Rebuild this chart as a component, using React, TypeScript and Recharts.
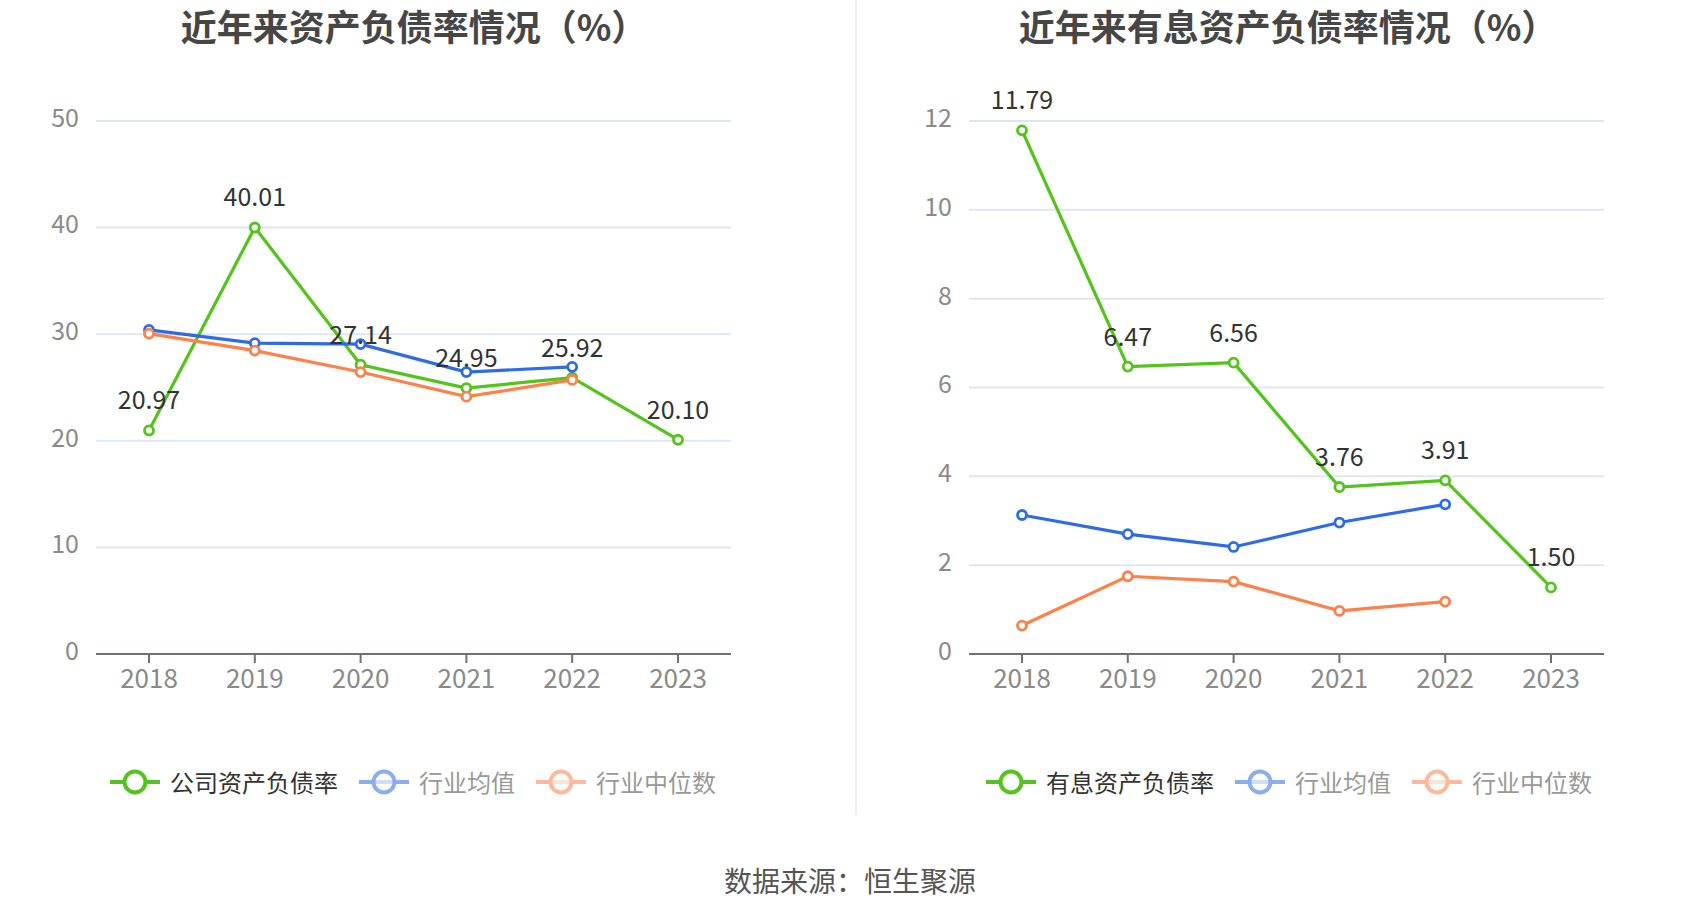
import React from 'react';
import { LineChart, Line, XAxis, YAxis, CartesianGrid, LabelList } from 'recharts';

const years = ['2018', '2019', '2020', '2021', '2022', '2023'];

const companyDebtRatio = [20.97, 40.01, 27.14, 24.95, 25.92, 20.1];
const industryAvgDebtRatio = [30.4, 29.17, 29.07, 26.45, 26.94, null];
const industryMedianDebtRatio = [30.06, 28.46, 26.45, 24.14, 25.71, null];

const interestDebtRatio = [11.79, 6.47, 6.56, 3.76, 3.91, 1.5];
const industryAvgInterestRatio = [3.13, 2.7, 2.41, 2.96, 3.37, null];
const industryMedianInterestRatio = [0.64, 1.75, 1.63, 0.97, 1.18, null];

const leftTicks = [0, 10, 20, 30, 40, 50];
const rightTicks = [0, 2, 4, 6, 8, 10, 12];

const leftTitle = '近年来资产负债率情况（%）';
const rightTitle = '近年来有息资产负债率情况（%）';
const leftLegend = ['公司资产负债率', '行业均值', '行业中位数'];
const rightLegend = ['有息资产负债率', '行业均值', '行业中位数'];
const sourceText = '数据来源：恒生聚源';

const GREEN = '#52C41A';
const BLUE = '#2E6BE6';
const ORANGE = '#FF8049';
const GRID = '#E0E6F1';
const AXIS = '#6E7079';
const TICK_TEXT = '#8a8a8a';
const FONT = "'Noto Sans CJK SC', 'Noto Sans', sans-serif";

const build = (main: (number | null)[], avg: (number | null)[], med: (number | null)[]) =>
  years.map((y, i) => ({ year: y, main: main[i], avg: avg[i], med: med[i] }));

const leftData = build(companyDebtRatio, industryAvgDebtRatio, industryMedianDebtRatio);
const rightData = build(interestDebtRatio, industryAvgInterestRatio, industryMedianInterestRatio);

function Panel({ left, data, ticks, yWidth, rightMargin }: any) {
  const max = ticks[ticks.length - 1];
  const dot = (c: string) => ({ r: 4.5, stroke: c, strokeWidth: 2.8, fill: '#fff' });
  return (
    <div style={{ position: 'absolute', left, top: 0 }}>
      <LineChart width={850} height={720} data={data} margin={{ top: 121, right: rightMargin, bottom: 16, left: 0 }}>
        <CartesianGrid horizontal vertical={false} stroke={GRID} strokeWidth={2} />
        <XAxis
          dataKey="year"
          padding={{ left: 53, right: 53 }}
          axisLine={{ stroke: AXIS, strokeWidth: 2 }}
          tickLine={{ stroke: AXIS, strokeWidth: 2 }}
          tickSize={9}
          tickMargin={7}
          height={50}
          interval={0}
          tick={{ fill: TICK_TEXT, fontSize: 26 }}
        />
        <YAxis
          type="number"
          domain={[0, max]}
          ticks={ticks}
          interval={0}
          width={yWidth}
          axisLine={false}
          tickLine={false}
          tickSize={0}
          tickMargin={17}
          tick={{ fill: TICK_TEXT, fontSize: 25, dy: -3 }}
        />
        <Line dataKey="main" stroke={GREEN} strokeWidth={3.2} dot={dot(GREEN)} activeDot={false} isAnimationActive={false}>
          <LabelList
            dataKey="main"
            position="top"
            offset={21}
            fill="#333"
            fontSize={25}
            formatter={(v: any) => (v == null ? '' : Number(v).toFixed(2))}
          />
        </Line>
        <Line dataKey="avg" stroke={BLUE} strokeWidth={3.2} dot={dot(BLUE)} activeDot={false} isAnimationActive={false} />
        <Line dataKey="med" stroke={ORANGE} strokeWidth={3.2} dot={dot(ORANGE)} activeDot={false} isAnimationActive={false} />
      </LineChart>
    </div>
  );
}

function LegendIcon({ color, faded }: { color: string; faded: boolean }) {
  return (
    <svg width={50} height={30} style={{ display: 'block', opacity: faded ? 0.55 : 1 }}>
      <line x1={0} y1={15} x2={50} y2={15} stroke={color} strokeWidth={4} />
      <circle cx={25} cy={15} r={10.5} stroke={color} strokeWidth={4} fill={faded ? 'rgba(255,255,255,0.6)' : '#fff'} />
    </svg>
  );
}

function LegendRow({ left, labels }: { left: number; labels: string[] }) {
  const colors = [GREEN, BLUE, ORANGE];
  return (
    <div style={{ position: 'absolute', left, top: 767, height: 30, display: 'flex', alignItems: 'center' }}>
      {labels.map((l, i) => (
        <div key={l} style={{ display: 'flex', alignItems: 'center', marginLeft: i === 0 ? 0 : 21 }}>
          <LegendIcon color={colors[i]} faded={i > 0} />
          <span style={{ marginLeft: 10, fontSize: 24, lineHeight: '30px', color: i === 0 ? '#333' : '#999', whiteSpace: 'nowrap' }}>{l}</span>
        </div>
      ))}
    </div>
  );
}

function Title({ cx, text }: { cx: number; text: string }) {
  return (
    <div
      style={{
        position: 'absolute',
        left: cx,
        top: 25,
        transform: 'translate(-50%, -50%)',
        fontSize: 36,
        fontWeight: 700,
        color: '#464646',
        whiteSpace: 'nowrap',
        lineHeight: '44px',
      }}
    >
      {text}
    </div>
  );
}

export default function App() {
  return (
    <div
      style={{
        position: 'absolute',
        left: 0,
        top: 0,
        width: 1700,
        height: 918,
        overflow: 'hidden',
        background: '#fff',
        fontFamily: FONT,
      }}
    >
      <Title cx={414} text={leftTitle} />
      <Title cx={1288} text={rightTitle} />
      <Panel left={0} data={leftData} ticks={leftTicks} yWidth={96} rightMargin={119} />
      <Panel left={850} data={rightData} ticks={rightTicks} yWidth={119} rightMargin={96} />
      <div style={{ position: 'absolute', left: 855, top: 0, width: 1.5, height: 815, background: '#eeeeee' }} />
      <LegendRow left={110} labels={leftLegend} />
      <LegendRow left={986} labels={rightLegend} />
      <div
        style={{
          position: 'absolute',
          left: 850,
          top: 880,
          transform: 'translate(-50%, -50%)',
          fontSize: 28,
          color: '#555',
          whiteSpace: 'nowrap',
          lineHeight: '36px',
        }}
      >
        {sourceText}
      </div>
    </div>
  );
}
